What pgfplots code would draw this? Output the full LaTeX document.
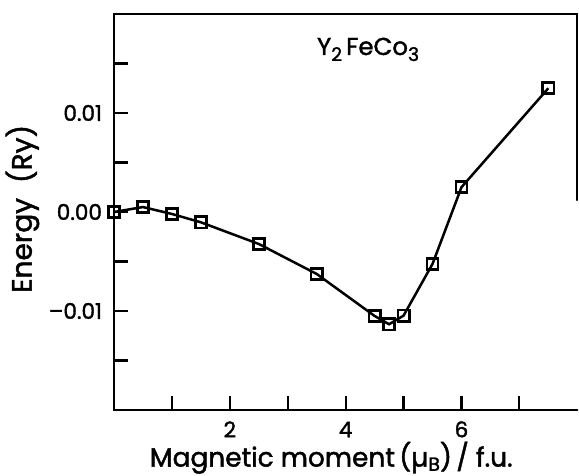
\documentclass[border=0pt]{standalone}
\usepackage{fontspec}
\setmainfont{Poppins}[FakeBold=1.6]
\usepackage{pgfplots}
\pgfplotsset{compat=1.18}
\begin{document}
\begin{tikzpicture}
\begin{axis}[
  at={(0,0)}, anchor=south west,
  scale only axis, width=231.65pt, height=198pt,
  xmin=0, xmax=8, ymin=-0.02, ymax=0.02,
  scaled y ticks=false,
  axis lines=left,
  axis line style={-, line width=1.1pt, line cap=round},
  tick align=inside,
  major tick length=7pt,
  every tick/.style={black, line width=1.1pt},
  xtick={1,2,3,4,5,6,7},
  xticklabels={,2,,4,,6,},
  ytick={-0.015,-0.01,-0.005,0,0.005,0.01,0.015},
  yticklabels={,–0.01,,0.00,,0.01,},
  xticklabel style={font=\fontsize{10.8}{11}\selectfont, anchor=base, inner sep=0pt, yshift=-13.65pt},
  yticklabel style={font=\fontsize{10.8}{11}\selectfont, anchor=east, inner sep=0pt, xshift=-5.8pt},
  xlabel={Magnetic moment\,(\textmu\raisebox{-2.1pt}{\fontsize{9.5}{10}\selectfont B})\,/ f.u.},
  ylabel={Energy\ \ (Ry)},
  xlabel style={font=\fontsize{13.2}{14}\selectfont, at={([yshift=-28.3pt]axis description cs:0.469,0)}, anchor=base, inner sep=0pt},
  ylabel style={font=\fontsize{14}{15}\selectfont, at={([xshift=-41.15pt]axis description cs:0,0.508)}, anchor=base, rotate=0, inner sep=0pt},
  clip=false,
]
% total energy versus fixed spin moment
\addplot[black, line width=1.25pt, mark=square, mark size=2.8pt,
  mark options={fill=white, line width=1.35pt, solid}]
  coordinates {
    (0,    0.0)
    (0.5,  0.0005)
    (1.0, -0.0002)
    (1.5, -0.00104)
    (2.5, -0.00323)
    (3.5, -0.00626)
    (4.5, -0.0105)
    (4.75,-0.01134)
    (5.0, -0.01047)
    (5.5, -0.00525)
    (6.0,  0.0025)
    (7.5,  0.0125)
  };
\node[anchor=base, font=\fontsize{12.2}{13}\selectfont, inner sep=0pt]
  at (axis cs:4.387,0.01586)
  {Y\raisebox{-3pt}{\fontsize{9.4}{10}\selectfont 2}\,FeCo\raisebox{-3pt}{\fontsize{9.4}{10}\selectfont 3}};
% frame: top edge and the upper part of the right edge
\draw[line width=1.1pt, line cap=round] (axis description cs:0,1) -- (axis description cs:1,1) -- (axis description cs:1,0.53);
\end{axis}
\pgfresetboundingbox
\path (-57pt,-33pt) rectangle (232.5pt,205pt);
\end{tikzpicture}
\end{document}
